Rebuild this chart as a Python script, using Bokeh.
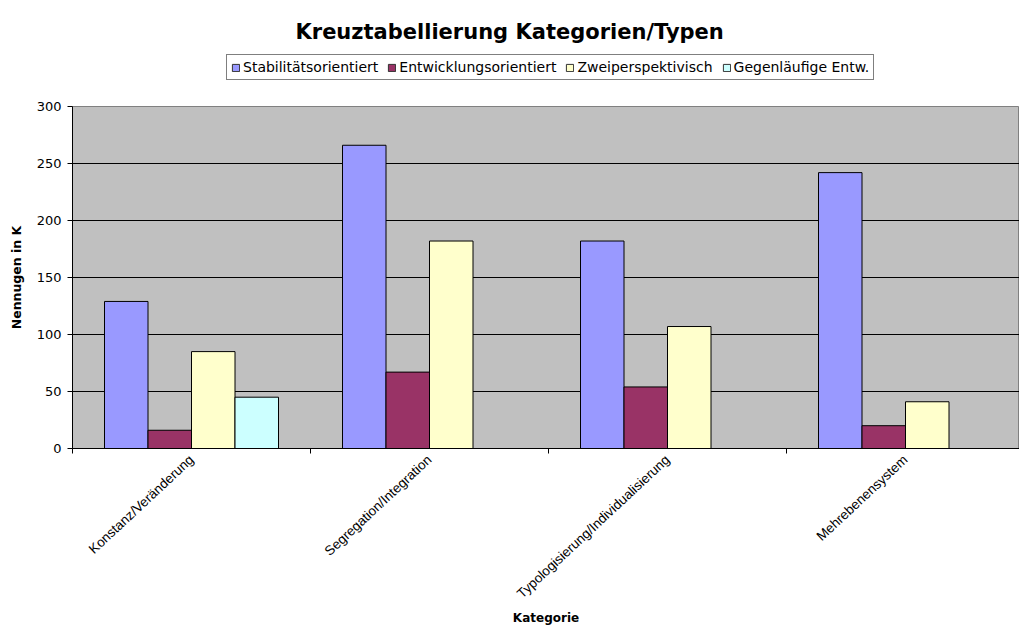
from bokeh.plotting import figure
from bokeh.layouts import column
from bokeh.models import (Range1d, FixedTicker, Legend, LegendItem, ColumnDataSource)
from bokeh.embed import file_html
from bokeh.resources import INLINE

categories = ["Konstanz/Veränderung", "Segregation/Integration",
              "Typologisierung/Individualisierung", "Mehrebenensystem"]
series_names = ["Stabilitätsorientiert", "Entwicklungsorientiert",
                "Zweiperspektivisch", "Gegenläufige Entw."]
stabilitaet = [129, 266, 182, 242]
entwicklung = [16, 67, 54, 20]
zweiperspektivisch = [85, 182, 107, 41]
gegenlaeufig = [45, 0, 0, 0]
y_ticks = [0, 50, 100, 150, 200, 250, 300]

series_values = [stabilitaet, entwicklung, zweiperspektivisch, gegenlaeufig]
colors = ["#9999FF", "#993366", "#FFFFCC", "#CCFFFF"]
font = "DejaVu Sans"

W = 1019
TOP_H = 96
MAIN_H = 628 - TOP_H
left, right, top, bottom = 72, 0, 10, 180
cat_px = 238.0
frame_w = W - left - right
x_end = frame_w / cat_px

# ---------- header: title + legend ----------
head = figure(width=W, height=TOP_H, output_backend="svg", toolbar_location=None,
              x_range=Range1d(0, 1), y_range=Range1d(0, 1),
              x_axis_location=None, y_axis_location=None,
              min_border_left=left, min_border_right=0, min_border_top=46,
              min_border_bottom=0, outline_line_color=None,
              background_fill_color="white", border_fill_color="white")
head.grid.visible = False
head.title.text = "Kreuztabellierung Kategorien/Typen"
head.title.text_font = font
head.title.text_font_style = "bold"
head.title.text_font_size = "21px"
head.title.align = "left"
head.title.offset = 223
head.title.standoff = 6
head.title.text_color = "black"

# legend-only renderers, tucked beneath the legend's white box
dummies = []
for col in colors:
    dummies.append(head.vbar(x=[0.5], top=[0.55], bottom=0.5, width=0.01, fill_color=col,
                             line_color="#333333", line_width=1))
legend = Legend(items=[LegendItem(label=n, renderers=[r]) for n, r in zip(series_names, dummies)],
                orientation="horizontal", location=(154, 16),
                label_text_font=font, label_text_font_size="14px",
                label_text_color="black",
                glyph_width=9, glyph_height=9, label_standoff=3, spacing=9,
                padding=4, margin=0, border_line_color="black", border_line_width=1,
                background_fill_color="white", background_fill_alpha=1.0, label_height=16)
head.add_layout(legend, "center")

# ---------- main chart ----------
p = figure(width=W, height=MAIN_H, output_backend="svg", toolbar_location=None,
           x_range=Range1d(0, x_end), y_range=Range1d(0, 300),
           title_location=None,
           min_border_left=left, min_border_right=right,
           min_border_top=top, min_border_bottom=bottom,
           background_fill_color="#C0C0C0", border_fill_color="white")

bar_w = 43.5 / cat_px
for i, (name, vals, col) in enumerate(zip(series_names, series_values, colors)):
    xs = [k + 0.5 + (i - 1.5) * bar_w for k in range(len(categories))]
    src = ColumnDataSource(dict(x=xs, top=vals))
    p.vbar(x="x", top="top", width=bar_w, bottom=0, source=src,
           fill_color=col, line_color="black", line_width=1)

p.xaxis.ticker = FixedTicker(ticks=[k + 0.5 for k in range(len(categories))],
                             minor_ticks=list(range(len(categories) + 1)))
p.xaxis.major_label_overrides = {k + 0.5: c for k, c in enumerate(categories)}
p.xaxis.major_tick_line_color = None
p.xaxis.major_tick_out = 0
p.xaxis.major_tick_in = 0
p.xaxis.minor_tick_out = 5
p.xaxis.minor_tick_in = 0
p.xaxis.minor_tick_line_color = "black"
p.xaxis.major_label_orientation = 0.75
p.xaxis.major_label_text_font = "Liberation Sans"
p.xaxis.major_label_text_font_size = "13.5px"
p.xaxis.major_label_text_color = "black"
p.xaxis.major_label_standoff = 4
p.xaxis.axis_label = "Kategorie"
p.xaxis.axis_label_text_font = font
p.xaxis.axis_label_text_font_style = "bold"
p.xaxis.axis_label_text_font_size = "12px"
p.xaxis.axis_label_text_color = "black"
p.xaxis.axis_label_standoff = 1
p.xaxis.axis_line_color = "black"

p.yaxis.ticker = FixedTicker(ticks=y_ticks)
p.yaxis.minor_tick_line_color = None
p.yaxis.major_tick_out = 5
p.yaxis.major_tick_in = 0
p.yaxis.major_tick_line_color = "black"
p.yaxis.major_label_text_font = font
p.yaxis.major_label_text_font_size = "13px"
p.yaxis.major_label_text_color = "black"
p.yaxis.major_label_standoff = 6
p.yaxis.axis_label = "Nennugen in K"
p.yaxis.axis_label_text_font = font
p.yaxis.axis_label_text_font_style = "bold"
p.yaxis.axis_label_text_font_size = "12.5px"
p.yaxis.axis_label_text_color = "black"
p.yaxis.axis_label_standoff = 10
p.yaxis.axis_line_color = "black"

p.xgrid.grid_line_color = None
p.ygrid.ticker = FixedTicker(ticks=y_ticks)
p.ygrid.grid_line_color = "black"
p.ygrid.grid_line_width = 1
p.outline_line_color = "#808080"

layout = column(head, p, spacing=0)
open("out.html", "w").write(file_html(layout, INLINE))
